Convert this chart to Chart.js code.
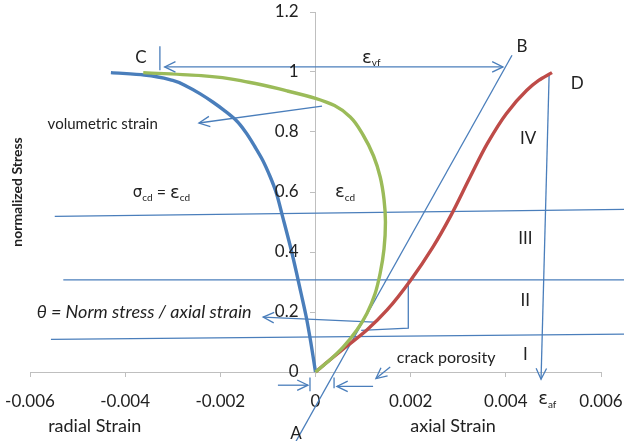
<!DOCTYPE html>
<html>
<head>
<meta charset="utf-8">
<script src="https://cdn.jsdelivr.net/npm/chart.js@4.4.1/dist/chart.umd.min.js"></script>
<style>
  body { margin: 0; background: #fff; }
  #box { width: 624px; height: 441px; }
</style>
</head>
<body>
<div id="box"><canvas id="strainChart"></canvas></div>
<script>
// radial strain vs normalized stress
const radialX = [0, -0.0001, -0.00019, -0.0003, -0.0005, -0.00069, -0.00083, -0.00095, -0.00111, -0.00127, -0.00147, -0.00167, -0.00192, -0.00216, -0.00243, -0.00268, -0.003, -0.0036, -0.0043];
const radialY = [0, 0.1, 0.18, 0.26, 0.4, 0.517, 0.6, 0.65, 0.706, 0.75, 0.8, 0.839, 0.872, 0.9, 0.928, 0.95, 0.972, 0.99, 0.998];

// volumetric strain
const volX = [-0.00362, -0.0024, -0.0014, -0.0006, 0, 0.0004, 0.00073, 0.001, 0.00122, 0.00136, 0.00144, 0.00147, 0.00144, 0.00136, 0.00125, 0.00108, 0.00087, 0.00058, 0.0003, 0];
const volY = [0.998, 0.988, 0.966, 0.937, 0.912, 0.888, 0.85, 0.79, 0.72, 0.65, 0.575, 0.5, 0.41, 0.33, 0.26, 0.195, 0.14, 0.083, 0.04, 0];

// axial strain
const axialX = [0, 0.0003, 0.00065, 0.00108, 0.0015, 0.002, 0.00247, 0.00283, 0.00325, 0.00361, 0.00401, 0.00444, 0.00469, 0.00497];
const axialY = [0, 0.04, 0.085, 0.14, 0.206, 0.306, 0.417, 0.517, 0.65, 0.761, 0.861, 0.939, 0.972, 0.998];

const xTicks = [-0.006, -0.004, -0.002, 0, 0.002, 0.004, 0.006];
const yTicks = [0, 0.2, 0.4, 0.6, 0.8, 1, 1.2];

// straight guide lines, [x, y] pairs
const guides = [
  [[-0.00041, -0.231], [0.00413, 1.056]],                     // A-B
  [[-0.00548, 0.519], [0.00649, 0.542]],                      // crack damage level
  [[-0.0053, 0.307], [0.00649, 0.307]],
  [[-0.00556, 0.109], [0.00649, 0.126]],
  [[0.00096, 0.139], [0.00195, 0.146], [0.00195, 0.306]],     // slope triangle
  [[-0.00327, 1.086], [-0.00327, 1.006]],                     // C mark
  [[-0.000116, -0.018], [-0.000116, -0.064]],
  [[0.00039, -0.018], [0.00039, -0.054]]
];

// arrows: from, to; both = head on each end
const arrows = [
  { from: [-0.00317, 1.017], to: [0.00394, 1.017], both: true },
  { from: [0.000137, 0.886], to: [-0.00245, 0.83] },
  { from: [0.00491, 0.992], to: [0.00474, -0.024] },
  { from: [0.00123, 0.166], to: [-0.0011, 0.183] },
  { from: [0.00157, 0.017], to: [0.00127, -0.022] },
  { from: [-0.00079, -0.044], to: [-0.000158, -0.044] },
  { from: [0.00121, -0.048], to: [0.00045, -0.048] }
];

// text notes; parts are [main, subscript]
const notes = [
  { parts: [['C', '']], x: -0.00367, y: 1.049, align: 'center', size: 17 },
  { parts: [['B', '']], x: 0.00434, y: 1.086, align: 'center', size: 17 },
  { parts: [['D', '']], x: 0.0055, y: 0.963, align: 'center', size: 17 },
  { parts: [['A', '']], x: -0.00041, y: -0.204, align: 'center', size: 17 },
  { parts: [['IV', '']], x: 0.00447, y: 0.779, align: 'center', size: 17 },
  { parts: [['III', '']], x: 0.00441, y: 0.446, align: 'center', size: 17 },
  { parts: [['II', '']], x: 0.00441, y: 0.239, align: 'center', size: 17 },
  { parts: [['I', '']], x: 0.00441, y: 0.059, align: 'center', size: 17 },
  { parts: [['ε', 'vf']], x: 0.000978, y: 1.046, align: 'left' },
  { parts: [['ε', 'cd']], x: 0.00041, y: 0.599, align: 'left' },
  { parts: [['σ', 'cd'], [' = ', ''], ['ε', 'cd']], x: -0.00384, y: 0.596, align: 'left' },
  { parts: [['volumetric strain', '']], x: -0.00563, y: 0.826, align: 'left', size: 15 },
  { parts: [['θ = Norm stress / axial strain', '']], x: -0.00586, y: 0.199, align: 'left', italic: true, size: 18 },
  { parts: [['crack porosity', '']], x: 0.00171, y: 0.046, align: 'left' },
  { parts: [['ε', 'af']], x: 0.00468, y: -0.091, align: 'left' },
  { parts: [['radial Strain', '']], x: -0.00464, y: -0.181, align: 'center', size: 18 },
  { parts: [['axial Strain', '']], x: 0.00289, y: -0.181, align: 'center', size: 18 }
];
const yTitle = { text: 'normalized Stress', x: -0.00626, y: 0.6 };

const FONT = 'Lato';
const LINE_BLUE = '#4a7ebb';
const TEXT = '#222';

const toPts = (xs, ys) => xs.map((v, i) => ({ x: v, y: ys[i] }));

// curves are single-valued in stress, so interpolate along y
const curve = (xs, ys, color) => ({
  data: toPts(xs, ys), borderColor: color, borderWidth: 3.4,
  indexAxis: 'y', cubicInterpolationMode: 'monotone'
});

const datasets = [
  curve(volX, volY, '#9bbb59'),
  curve(radialX, radialY, '#4a7ebb'),
  curve(axialX, axialY, '#be4b48')
];
guides.forEach(seg => datasets.push({
  data: seg.map(p => ({ x: p[0], y: p[1] })),
  borderColor: LINE_BLUE, borderWidth: 1.3, tension: 0
}));
arrows.forEach(a => datasets.push({
  data: [{ x: a.from[0], y: a.from[1] }, { x: a.to[0], y: a.to[1] }],
  borderColor: LINE_BLUE, borderWidth: 1.3, tension: 0
}));
datasets.forEach(d => { d.pointRadius = 0; d.fill = false; d.clip = false; d.showLine = true; });

function drawHead(ctx, tx, ty, fx, fy) {
  const ang = Math.atan2(ty - fy, tx - fx);
  const len = 12, spread = 0.45;
  ctx.beginPath();
  ctx.moveTo(tx - len * Math.cos(ang - spread), ty - len * Math.sin(ang - spread));
  ctx.lineTo(tx, ty);
  ctx.lineTo(tx - len * Math.cos(ang + spread), ty - len * Math.sin(ang + spread));
  ctx.stroke();
}

function mainFont(text, n) {
  if (text === 'ε') return '18px "DejaVu Sans"';
  if (text === 'σ') return '15px "DejaVu Sans"';
  return (n.italic ? 'italic ' : '') + (n.size || 16) + 'px ' + FONT;
}

const notesPlugin = {
  id: 'notes',
  afterDatasetsDraw(chart) {
    const { ctx } = chart;
    const sx = chart.scales.x, sy = chart.scales.y;
    ctx.save();
    ctx.strokeStyle = LINE_BLUE;
    ctx.lineWidth = 1.3;
    arrows.forEach(a => {
      const fx = sx.getPixelForValue(a.from[0]), fy = sy.getPixelForValue(a.from[1]);
      const tx = sx.getPixelForValue(a.to[0]), ty = sy.getPixelForValue(a.to[1]);
      drawHead(ctx, tx, ty, fx, fy);
      if (a.both) drawHead(ctx, fx, fy, tx, ty);
    });

    ctx.fillStyle = TEXT;
    ctx.textBaseline = 'middle';

    // y tick labels, left of the centred axis
    ctx.font = '17px ' + FONT;
    ctx.textAlign = 'right';
    const axisX = sx.getPixelForValue(0);
    sy.ticks.forEach(t => {
      ctx.fillText(Number(t.value.toFixed(1)).toString(), axisX - 17, sy.getPixelForValue(t.value));
    });

    ctx.textAlign = 'left';
    const subFont = '10px ' + FONT;
    notes.forEach(n => {
      let w = 0;
      n.parts.forEach(([m, s]) => {
        ctx.font = mainFont(m, n);
        w += ctx.measureText(m).width;
        ctx.font = subFont;
        w += s ? ctx.measureText(s).width : 0;
      });
      let px = sx.getPixelForValue(n.x);
      const py = sy.getPixelForValue(n.y);
      if (n.align === 'center') px -= w / 2;
      n.parts.forEach(([m, s]) => {
        ctx.font = mainFont(m, n);
        ctx.fillText(m, px, py);
        px += ctx.measureText(m).width;
        if (s) {
          ctx.font = subFont;
          ctx.fillText(s, px, py + 5);
          px += ctx.measureText(s).width;
        }
      });
    });

    // y axis title
    ctx.font = 'bold 14px ' + FONT;
    ctx.textAlign = 'center';
    ctx.translate(sx.getPixelForValue(yTitle.x), sy.getPixelForValue(yTitle.y));
    ctx.rotate(-Math.PI / 2);
    ctx.fillText(yTitle.text, 0, 0);
    ctx.restore();
  }
};

new Chart(document.getElementById('strainChart'), {
  type: 'scatter',
  data: { datasets: datasets },
  options: {
    responsive: true,
    maintainAspectRatio: false,
    animation: false,
    events: [],
    layout: { padding: { left: 30, right: 23, top: 12, bottom: 29 } },
    plugins: { legend: { display: false }, tooltip: { enabled: false } },
    scales: {
      x: {
        type: 'linear',
        min: xTicks[0],
        max: xTicks[xTicks.length - 1],
        afterBuildTicks: s => { s.ticks = xTicks.map(v => ({ value: v })); },
        afterFit: s => { s.height = 40; s.paddingLeft = 0; s.paddingRight = 0; },
        ticks: {
          font: { family: FONT, size: 17 },
          color: TEXT,
          padding: 14,
          maxRotation: 0,
          callback: v => Number(v.toFixed(3)).toString()
        },
        grid: { drawOnChartArea: false, drawTicks: true, tickLength: 5, color: '#bfbfbf' },
        border: { color: '#bfbfbf' }
      },
      y: {
        type: 'linear',
        position: { x: 0 },
        min: yTicks[0],
        max: yTicks[yTicks.length - 1],
        afterBuildTicks: s => { s.ticks = yTicks.map(v => ({ value: v })); },
        afterFit: s => { s.width = 0; s.paddingTop = 0; s.paddingBottom = 0; },
        ticks: { display: false },
        grid: { drawOnChartArea: false, drawTicks: true, tickLength: 5, color: '#bfbfbf' },
        border: { color: '#bfbfbf' }
      }
    }
  },
  plugins: [notesPlugin]
});
</script>
</body>
</html>
